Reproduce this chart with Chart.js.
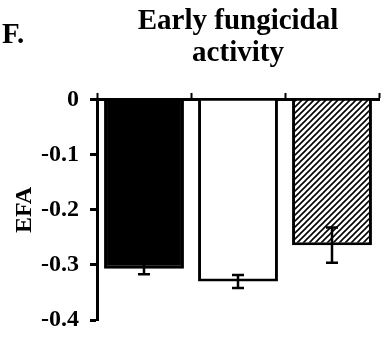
<!DOCTYPE html>
<html>
<head>
<meta charset="utf-8">
<script src="https://cdn.jsdelivr.net/npm/chart.js@4.4.1/dist/chart.umd.min.js"></script>
<style>
  html, body { margin: 0; padding: 0; background: #fff; }
  #wrap { width: 382px; height: 339px; }
</style>
</head>
<body>
<div id="wrap"><canvas id="efaChart"></canvas></div>
<script>
// data
const groups = ['Group 1', 'Group 2', 'Group 3'];
const efaMeans = [-0.307, -0.330, -0.264];
const efaErrors = [0.010, 0.012, 0.032];
const yTicks = [0, -0.1, -0.2, -0.3, -0.4];
const titleLines = ['Early fungicidal', 'activity'];
const panelLetter = 'F.';

const serif = "'Liberation Serif', 'Times New Roman', serif";

// diagonal hatch for the third bar
function makeHatch() {
  const c = document.createElement('canvas');
  const s = 6;
  c.width = s; c.height = s;
  const g = c.getContext('2d');
  g.fillStyle = '#fff';
  g.fillRect(0, 0, s, s);
  g.strokeStyle = '#000';
  g.lineWidth = 1.6;
  g.beginPath();
  g.moveTo(0, s); g.lineTo(s, 0);
  g.moveTo(-1, 1); g.lineTo(1, -1);
  g.moveTo(s - 1, s + 1); g.lineTo(s + 1, s - 1);
  g.stroke();
  return document.createElement('canvas').getContext('2d').createPattern(c, 'repeat');
}

// error bars + panel letter
const extras = {
  id: 'extras',
  afterDatasetsDraw(chart) {
    const ctx = chart.ctx;
    const yScale = chart.scales.y;
    const meta = chart.getDatasetMeta(0);
    ctx.save();
    ctx.strokeStyle = '#000';
    ctx.lineWidth = 2.5;
    meta.data.forEach((bar, i) => {
      const top = yScale.getPixelForValue(efaMeans[i] + efaErrors[i]);
      const bot = yScale.getPixelForValue(efaMeans[i] - efaErrors[i]);
      ctx.beginPath();
      ctx.moveTo(bar.x, top); ctx.lineTo(bar.x, bot);
      ctx.moveTo(bar.x - 6, top); ctx.lineTo(bar.x + 6, top);
      ctx.moveTo(bar.x - 6, bot); ctx.lineTo(bar.x + 6, bot);
      ctx.stroke();
    });
    ctx.restore();
  },
  afterDraw(chart) {
    const ctx = chart.ctx;
    ctx.save();
    ctx.fillStyle = '#000';
    ctx.font = 'bold 29px ' + serif;
    ctx.textBaseline = 'alphabetic';
    ctx.fillText(panelLetter, 2, 43);
    ctx.restore();
  }
};

const ctx = document.getElementById('efaChart').getContext('2d');
const efaChart = new Chart(ctx, {
  type: 'bar',
  data: {
    labels: groups,
    datasets: [{
      data: efaMeans,
      backgroundColor: ['#000', '#fff', makeHatch()],
      borderColor: '#000',
      borderWidth: 3,
      categoryPercentage: 1,
      barPercentage: 0.85
    }]
  },
  options: {
    responsive: true,
    maintainAspectRatio: false,
    animation: false,
    layout: { padding: { top: 0, right: 3, bottom: 19, left: 0 } },
    plugins: {
      legend: { display: false },
      tooltip: { enabled: false },
      title: {
        display: true,
        fullSize: false,
        text: titleLines,
        color: '#000',
        font: { family: serif, size: 29, weight: 'bold', lineHeight: 1.12 },
        padding: { top: 5, bottom: 23 }
      }
    },
    scales: {
      x: {
        position: 'top',
        ticks: { display: false },
        grid: {
          offset: true,
          drawOnChartArea: false,
          drawTicks: true,
          tickLength: 7,
          tickWidth: 2,
          color: '#000'
        },
        border: { display: true, color: '#000', width: 3 }
      },
      y: {
        min: -0.4,
        max: 0,
        afterBuildTicks(scale) {
          scale.ticks = yTicks.map(v => ({ value: v }));
        },
        afterFit(scale) {
          scale.width = 97;
          scale.paddingTop = 0;
          scale.paddingBottom = 0;
        },
        ticks: {
          color: '#000',
          padding: 11,
          font: { family: serif, size: 24, weight: 'bold' },
          callback: v => (v === 0 ? '0' : v.toFixed(1))
        },
        grid: {
          drawOnChartArea: false,
          drawTicks: true,
          tickLength: 7,
          tickWidth: 3,
          color: '#000'
        },
        border: { display: true, color: '#000', width: 3 },
        title: {
          display: true,
          text: 'EFA',
          color: '#000',
          font: { family: serif, size: 24, weight: 'bold' },
          padding: { top: 10, bottom: 0 }
        }
      }
    }
  },
  plugins: [extras]
});
</script>
</body>
</html>
